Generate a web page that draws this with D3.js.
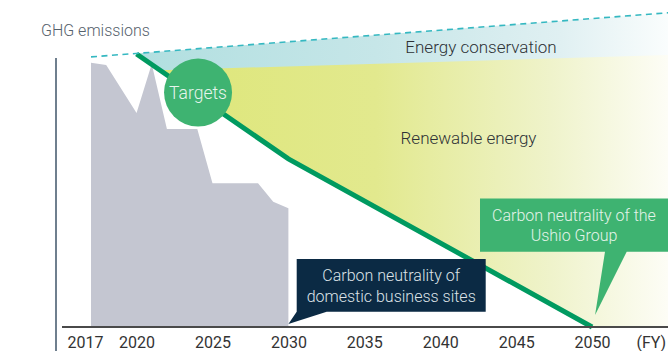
<!DOCTYPE html>
<html>
<head>
<meta charset="utf-8">
<script src="https://cdn.jsdelivr.net/npm/d3@7"></script>
<style>
  html, body { margin: 0; padding: 0; background: #fff; }
  svg { display: block; font-family: Roboto, "Noto Sans", sans-serif; }
</style>
</head>
<body>
<svg id="chart" width="668" height="351"></svg>
<script>
// ---- data ----
const tickYears = [2017, 2020, 2025, 2030, 2035, 2040, 2045, 2050];
const actualYears = [2017, 2018, 2020, 2021, 2022, 2024, 2025, 2028, 2029, 2030];
const actualValues = [100, 99.1, 81.0, 99.5, 74.9, 74.9, 54.4, 54.4, 47.4, 44.9];
const targetYears = [2020, 2030, 2050];
const targetValues = [103.3, 63.6, 0];
const bauYears = [2017, 2055];
const bauValues = [102.2, 118.9];
const renewYears = [2020, 2055];
const renewValues = [96.9, 102.9];
const labels = {
  yTitle: "GHG emissions",
  unit: "(FY)",
  conservation: "Energy conservation",
  renewable: "Renewable energy",
  targets: "Targets",
  domestic: ["Carbon neutrality of", "domestic business sites"],
  group: ["Carbon neutrality of the", "Ushio Group"]
};

// ---- scales ----
const svg = d3.select("#chart");
const x = d3.scaleLinear().domain([2017, 2055]).range([91, 668]);
const y = d3.scaleLinear().domain([0, 100]).range([327, 62.7]);

const defs = svg.append("defs");
const gCyan = defs.append("linearGradient").attr("id", "gCyan")
  .attr("gradientUnits", "userSpaceOnUse")
  .attr("x1", x(2020)).attr("x2", x(2055)).attr("y1", 0).attr("y2", 0);
gCyan.append("stop").attr("offset", "0%").attr("stop-color", "#b1dfe0");
gCyan.append("stop").attr("offset", "45%").attr("stop-color", "#c6e6e8");
gCyan.append("stop").attr("offset", "80%").attr("stop-color", "#e0f0f2");
gCyan.append("stop").attr("offset", "100%").attr("stop-color", "#fafdfd");

const gYel = defs.append("linearGradient").attr("id", "gYel")
  .attr("gradientUnits", "userSpaceOnUse")
  .attr("x1", x(2020)).attr("x2", x(2055)).attr("y1", 0).attr("y2", 0);
gYel.append("stop").attr("offset", "0%").attr("stop-color", "#dde676");
gYel.append("stop").attr("offset", "45%").attr("stop-color", "#e2e98e");
gYel.append("stop").attr("offset", "78%").attr("stop-color", "#eff3cb");
gYel.append("stop").attr("offset", "100%").attr("stop-color", "#fdfdf6");

// clip: region above the target pathway
const clipPts = [[2020, 140]].concat(targetYears.map((yr, i) => [yr, targetValues[i]]))
  .concat([[2055, 0], [2055, 140]]);
defs.append("clipPath").attr("id", "aboveTarget")
  .append("path")
  .attr("d", d3.line().x(d => x(d[0])).y(d => y(d[1]))(clipPts) + "Z");

const interp = (ys, vs) => (yr) => {
  const t = (yr - ys[0]) / (ys[1] - ys[0]);
  return vs[0] + t * (vs[1] - vs[0]);
};
const bauAt = interp(bauYears, bauValues);
const renAt = interp(renewYears, renewValues);
const spanYears = [2020, 2055];

// cyan (energy conservation) area
svg.append("path")
  .attr("clip-path", "url(#aboveTarget)")
  .attr("fill", "url(#gCyan)")
  .attr("d", d3.area().x(d => x(d)).y0(y(0)).y1(d => y(bauAt(d)))(spanYears));

// yellow (renewable) area
svg.append("path")
  .attr("clip-path", "url(#aboveTarget)")
  .attr("fill", "url(#gYel)")
  .attr("d", d3.area().x(d => x(d)).y0(y(0)).y1(d => y(renAt(d)))(spanYears));

// actual emissions (gray)
const actual = actualYears.map((yr, i) => [yr, actualValues[i]]);
svg.append("path")
  .attr("fill", "#c4c6d1")
  .attr("d", d3.area().x(d => x(d[0])).y0(y(0)).y1(d => y(d[1]))(actual));

// target line
const target = targetYears.map((yr, i) => [yr, targetValues[i]]);
svg.append("path")
  .attr("fill", "none")
  .attr("stroke", "#009a60")
  .attr("stroke-width", 5)
  .attr("d", d3.line().x(d => x(d[0])).y(d => y(d[1]))(target));

// BAU dashed line
const bau = bauYears.map((yr, i) => [yr, bauValues[i]]);
svg.append("path")
  .attr("fill", "none")
  .attr("stroke", "#35b8c1")
  .attr("stroke-width", 1.6)
  .attr("stroke-dasharray", "6,4.5")
  .attr("d", d3.line().x(d => x(d[0])).y(d => y(d[1]))(bau));

// Targets circle
svg.append("circle")
  .attr("cx", x(2024.05)).attr("cy", y(88.7)).attr("r", 34)
  .attr("fill", "#3eb371");
svg.append("text")
  .attr("x", x(2024.05)).attr("y", y(88.7) + 6.5)
  .attr("text-anchor", "middle")
  .attr("fill", "#e6f5ec")
  .attr("font-size", 17.5).attr("font-weight", 300)
  .text(labels.targets);

// area labels
svg.append("text")
  .attr("x", 481).attr("y", 53)
  .attr("text-anchor", "middle").attr("fill", "#2e3236")
  .attr("font-size", 17).attr("font-weight", 300)
  .text(labels.conservation);
svg.append("text")
  .attr("x", 468.5).attr("y", 144)
  .attr("text-anchor", "middle").attr("fill", "#2e3236")
  .attr("font-size", 17).attr("font-weight", 300)
  .text(labels.renewable);

// y title
svg.append("text")
  .attr("x", 41).attr("y", 36)
  .attr("fill", "#56616c")
  .attr("font-size", 16).attr("font-weight", 300)
  .text(labels.yTitle);

// domestic bubble (dark)
const tip1 = [x(2030), y(0) - 3];
svg.append("path")
  .attr("fill", "#0b2a44")
  .attr("d", `M296.7,259 H485.7 V311.7 H326.7 L${tip1[0]},${tip1[1]} L296.7,311.7 Z`);
labels.domestic.forEach((t, i) => {
  svg.append("text")
    .attr("x", 391.2).attr("y", 280.5 + i * 21.5)
    .attr("text-anchor", "middle").attr("fill", "#dde3e8")
    .attr("font-size", 16).attr("font-weight", 300)
    .text(t);
});

// group bubble (green)
const tip2 = [x(2050) + 3, y(0) - 12];
svg.append("path")
  .attr("fill", "#3eb371")
  .attr("d", `M480,198.5 H668 V251.7 H626.7 L${tip2[0]},${tip2[1]} L605,251.7 H480 Z`);
labels.group.forEach((t, i) => {
  svg.append("text")
    .attr("x", 574).attr("y", 220.5 + i * 20.5)
    .attr("text-anchor", "middle").attr("fill", "#e4f4ea")
    .attr("font-size", 16).attr("font-weight", 300)
    .text(t);
});

// axes
svg.append("line")
  .attr("x1", 56).attr("x2", 56).attr("y1", 58).attr("y2", 351)
  .attr("stroke", "#6f7f8e").attr("stroke-width", 2);
svg.append("line")
  .attr("x1", 62).attr("x2", 668).attr("y1", y(0)).attr("y2", y(0))
  .attr("stroke", "#4a4a4a").attr("stroke-width", 2);

const axis = svg.append("g")
  .attr("transform", `translate(0,${y(0)})`)
  .call(d3.axisBottom(x).tickValues(tickYears).tickSize(0).tickFormat(d3.format("d")));
axis.select(".domain").remove();
axis.selectAll("text")
  .attr("y", 20.5).attr("dy", 0)
  .attr("fill", "#333")
  .attr("font-size", 16).attr("font-weight", 400)
  .attr("font-family", "Roboto, sans-serif")
  .attr("dx", d => d === 2017 ? -6 : 0);

svg.append("text")
  .attr("x", x(2053.9)).attr("y", y(0) + 20.5)
  .attr("text-anchor", "middle").attr("fill", "#333")
  .attr("font-size", 16)
  .text(labels.unit);
</script>
</body>
</html>
